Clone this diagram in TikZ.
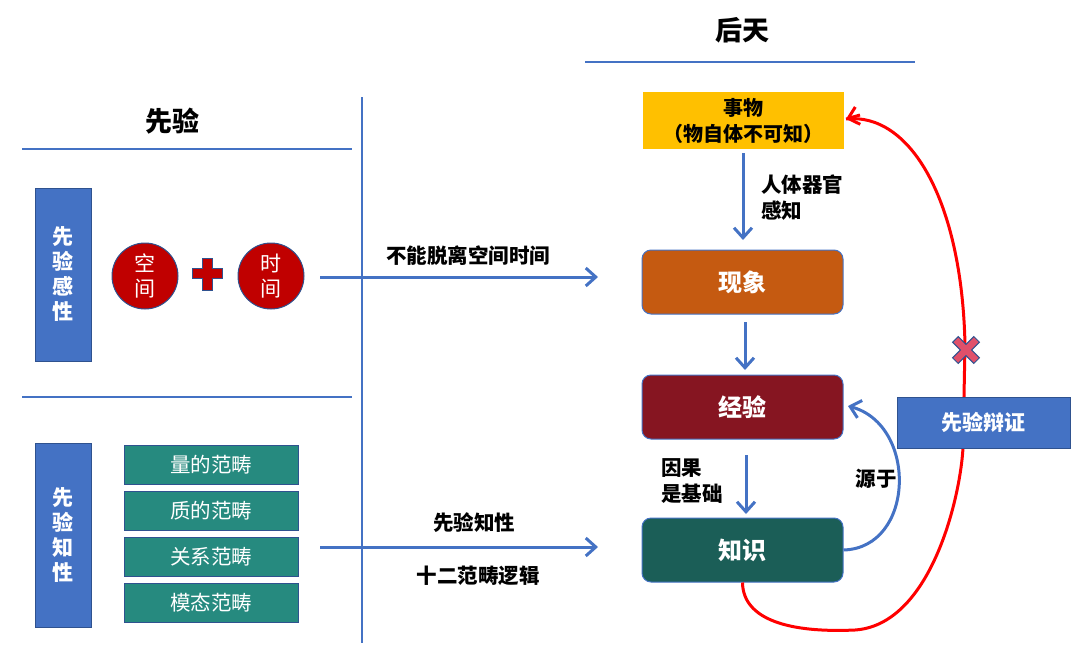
\documentclass[tikz,border=0pt]{standalone}
\usepackage{fontspec}
\setmainfont{Noto Sans CJK SC}
\usetikzlibrary{arrows.meta}
\definecolor{bl}{HTML}{4472C4}
\definecolor{bdr}{HTML}{2F528F}
\definecolor{cred}{HTML}{C00000}
\definecolor{teal2}{HTML}{268A7F}
\definecolor{yel}{HTML}{FFC000}
\definecolor{ora}{HTML}{C55A11}
\definecolor{dred}{HTML}{861521}
\definecolor{dgreen}{HTML}{1B5E57}
\definecolor{xred}{HTML}{E0506A}
\tikzset{
  sep/.style={bl,line width=1.3pt},
  conn/.style={bl,line width=3pt,-{Straight Barb[length=10pt,width=18pt,line width=3pt]}},
  redc/.style={red,line width=3pt},
  sidebox/.style={draw=bdr,fill=bl,line width=1pt,text=white,font=\fontsize{21}{25}\selectfont\bfseries,align=center,minimum width=56pt,inner sep=0pt},
  circ/.style={circle,draw=bdr,fill=cred,line width=1pt,minimum size=66pt,inner sep=0pt,text=white,font=\fontsize{21}{25}\selectfont,align=center},
  cat/.style={draw=bdr,fill=teal2,line width=1pt,minimum width=174pt,minimum height=39pt,inner sep=0pt,text=white,font=\fontsize{20.5}{22}\selectfont},
  flow/.style={draw=bl,rounded corners=9pt,line width=1pt,minimum width=201pt,minimum height=64pt,inner sep=0pt,text=white,font=\fontsize{24}{26}\selectfont\bfseries},
  lab/.style={font=\fontsize{20.5}{26}\selectfont\bfseries,align=left,inner sep=0pt},
  ttl/.style={font=\fontsize{27}{30}\selectfont\bfseries,inner sep=0pt},
}
\begin{document}
\begin{tikzpicture}[x=1pt,y=-1pt]
\useasboundingbox (0,0) rectangle (1080,670);
% titles and separators
\node[ttl] (t1) at (742,30) {后天};
\node[ttl] (t2) at (172,121) {先验};
\draw[sep] (585,62) -- (915,62);
\draw[sep] (22,149) -- (352,149);
\draw[sep] (22,397) -- (352,397);
\draw[sep] (362,97) -- (362,643);
% left: sensibility
\node[sidebox,minimum height=173pt] (s1) at (63,274.5) {先\\验\\感\\性};
\node[circ] (c1) at (145,276) {空\\间};
\node[circ] (c2) at (271,276) {时\\间};
\draw[bdr,line width=1pt,fill=cred] (202,258) -- (212,258) -- (212,268) -- (222,268) -- (222,278) -- (212,278) -- (212,290) -- (202,290) -- (202,278) -- (192,278) -- (192,268) -- (202,268) -- cycle;
\coordinate (a1s) at (320,277);
\coordinate (a1e) at (598,277);
\draw[conn] (a1s) -- (a1e);
\node[lab] (l1) at (468,256) {不能脱离空间时间};
% left: understanding
\node[sidebox,minimum height=184pt] (s2) at (63,535) {先\\验\\知\\性};
\node[cat] (k1) at (211,465) {量的范畴};
\node[cat] (k2) at (211,510.5) {质的范畴};
\node[cat] (k3) at (211,557) {关系范畴};
\node[cat] (k4) at (211,602.5) {模态范畴};
\coordinate (a2s) at (320,547);
\coordinate (a2e) at (598,547);
\draw[conn] (a2s) -- (a2e);
\node[lab] (l2) at (474,523) {先验知性};
\node[lab] (l3) at (478,576) {十二范畴逻辑};
% right flow
\node[fill=yel,minimum width=201pt,minimum height=57pt,inner sep=0pt,align=center,font=\fontsize{20}{26}\selectfont\bfseries] (thing) at (743.5,120.5) {事物\\（物自体不可知）};
\node[flow,fill=ora] (phen) at (742.5,282) {现象};
\node[flow,fill=dred] (exp) at (742.5,407) {经验};
\node[flow,fill=dgreen] (know) at (742.5,550) {知识};
\coordinate (b1s) at (743,153);
\coordinate (b1e) at (743,240);
\coordinate (b2s) at (745,322);
\coordinate (b2e) at (745,370);
\coordinate (b3s) at (746,455);
\coordinate (b3e) at (746,514);
\draw[conn] (b1s) -- (b1e);
\draw[conn] (b2s) -- (b2e);
\draw[conn] (b3s) -- (b3e);
\node[lab,anchor=west] (l4) at (761,198) {人体器官\\感知};
\node[lab,anchor=west] (l5) at (661,481) {因果\\是基础};
\node[lab] (l6) at (876,479) {源于};
% blue feedback curve
\coordinate (fbE) at (848,406);
\draw[conn] (know.east) .. controls (915,548) and (918,425) .. (fbE);
% red curve (behind dialectic box)
\coordinate (rEnd) at (846,119);
\draw[redc] (know.south) .. controls (743,620) and (790,633) .. (855,630)
  .. controls (930,625) and (960,500) .. (963,448)
  -- (965,345)
  .. controls (962,200) and (910,112) .. (rEnd);
\coordinate (rPre) at (860,115);
\draw[red,line width=3pt,-{Straight Barb[length=10pt,width=18pt,line width=3pt]}] (rPre) -- (rEnd);
% dialectic box on top of the red curve
\node[draw=bdr,fill=bl,line width=1pt,minimum width=173pt,minimum height=51pt,inner sep=0pt,text=white,font=\fontsize{21}{24}\selectfont\bfseries] (dial) at (983.5,422.5) {先验辩证};
% X mark
\begin{scope}[shift={(966,350)},rotate=45]
\draw[bdr,line width=1pt,fill=xred] (-4,-15) -- (4,-15) -- (4,-4) -- (15,-4) -- (15,4) -- (4,4) -- (4,15) -- (-4,15) -- (-4,4) -- (-15,4) -- (-15,-4) -- (-4,-4) -- cycle;
\end{scope}
\end{tikzpicture}
\end{document}
